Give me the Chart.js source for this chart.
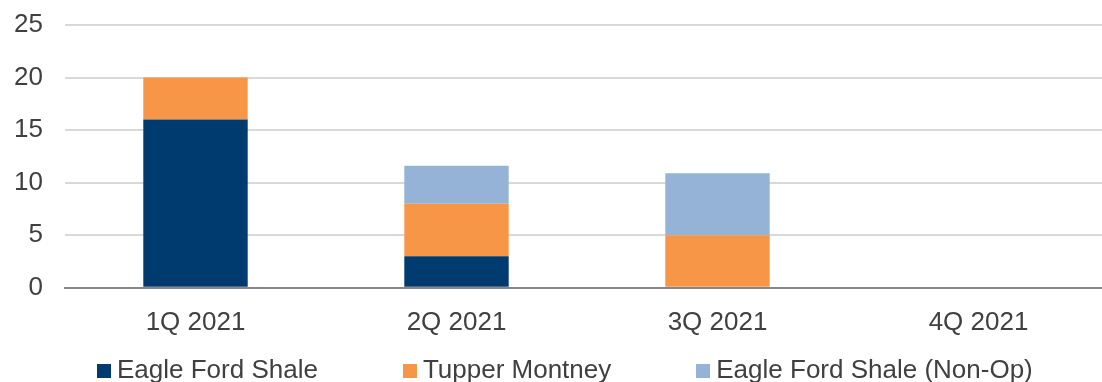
<!DOCTYPE html>
<html>
<head>
<meta charset="utf-8">
<script src="https://cdn.jsdelivr.net/npm/chart.js@4.4.1/dist/chart.umd.min.js"></script>
<style>
    html, body { margin: 0; padding: 0; background: #ffffff; overflow: hidden; }
    #wrap { width: 1102px; height: 382px; position: relative; overflow: hidden; }
    #plot { width: 1109px; height: 382px; position: absolute; left: 0; top: 0; }
    #legend {
        position: absolute; left: 97px; top: 351px;
        font-family: 'Liberation Sans', Arial, sans-serif; font-size: 26px; color: #404040;
        white-space: nowrap; line-height: 36px;
    }
    #legend .item { display: inline-block; margin-right: 85px; }
    #legend .item:last-child { margin-right: 0; }
    #legend .box { display: inline-block; width: 14px; height: 14px; margin-right: 6px; vertical-align: baseline; }
</style>
</head>
<body>
<div id="wrap">
    <div id="plot"><canvas id="chart"></canvas></div>
    <div id="legend"></div>
</div>
<script>
// quarterly counts by asset
var quarters = ['1Q 2021', '2Q 2021', '3Q 2021', '4Q 2021'];
var eagleFord = [16, 3, 0, 0];
var tupperMontney = [4, 5, 5, 0];
var eagleFordNonOp = [0, 3.6, 5.9, 0];

var seriesNames = ['Eagle Ford Shale', 'Tupper Montney', 'Eagle Ford Shale (Non-Op)'];
var colors = ['#003B70', '#F79646', '#95B3D7'];

var ctx = document.getElementById('chart').getContext('2d');
var chart = new Chart(ctx, {
    type: 'bar',
    data: {
        labels: quarters,
        datasets: [
            { label: seriesNames[0], data: eagleFord, backgroundColor: colors[0] },
            { label: seriesNames[1], data: tupperMontney, backgroundColor: colors[1] },
            { label: seriesNames[2], data: eagleFordNonOp, backgroundColor: colors[2] }
        ]
    },
    options: {
        responsive: true,
        maintainAspectRatio: false,
        animation: false,
        datasets: {
            bar: { barPercentage: 0.40, categoryPercentage: 1 }
        },
        layout: { padding: { top: 25, right: 0, bottom: 25, left: 0 } },
        plugins: {
            tooltip: { enabled: false },
            legend: { display: false }
        },
        scales: {
            x: {
                stacked: true,
                grid: { display: false, drawTicks: false },
                border: { color: '#868686', width: 2 },
                ticks: {
                    font: { family: 'Liberation Sans, Arial', size: 26 },
                    color: '#404040',
                    padding: 19
                }
            },
            y: {
                stacked: true,
                min: 0,
                max: 25,
                afterFit: function(scale) {
                    scale.width = 65;
                    scale.paddingTop = 0;
                },
                grid: { color: '#D9D9D9', lineWidth: 2, drawTicks: false },
                border: { display: false },
                ticks: {
                    stepSize: 5,
                    autoSkip: false,
                    font: { family: 'Liberation Sans, Arial', size: 26 },
                    color: '#404040',
                    padding: 22
                }
            }
        }
    }
});

// legend below the plot, built from the dataset names and colours
var legendEl = document.getElementById('legend');
chart.data.datasets.forEach(function(ds) {
    var item = document.createElement('span');
    item.className = 'item';
    var box = document.createElement('span');
    box.className = 'box';
    box.style.background = ds.backgroundColor;
    item.appendChild(box);
    item.appendChild(document.createTextNode(ds.label));
    legendEl.appendChild(item);
});
</script>
</body>
</html>
